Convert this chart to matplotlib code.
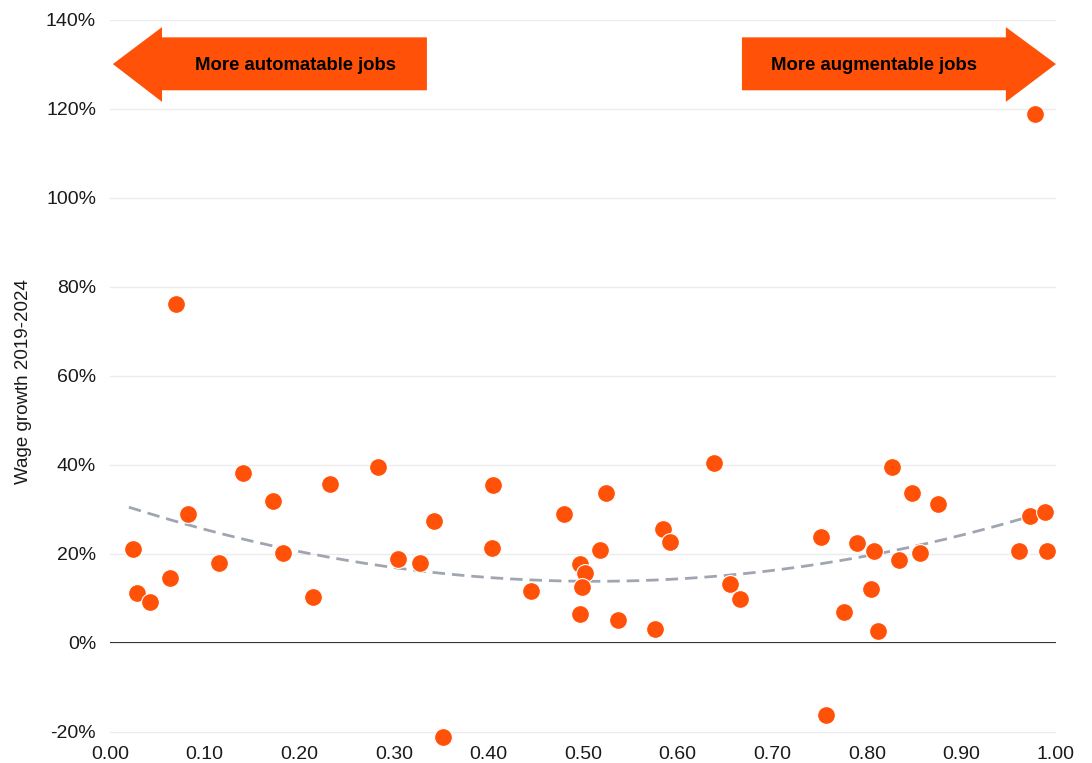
import numpy as np
import matplotlib
matplotlib.use("Agg")
import matplotlib.pyplot as plt
from matplotlib.ticker import PercentFormatter
from matplotlib.patches import Polygon

plt.rcParams['font.family'] = ['Liberation Sans', 'DejaVu Sans']
plt.rcParams['axes.unicode_minus'] = False

# Augmentation score (x) and wage growth 2019-2024 (y, fraction)
x_vals = [0.024, 0.029, 0.042, 0.063, 0.070, 0.082, 0.115, 0.141, 0.172, 0.183,
          0.215, 0.233, 0.283, 0.304, 0.328, 0.343, 0.352, 0.405, 0.404, 0.445,
          0.480, 0.524, 0.497, 0.502, 0.499, 0.497, 0.518, 0.537, 0.576, 0.585,
          0.592, 0.639, 0.655, 0.666, 0.752, 0.757, 0.776, 0.790, 0.808, 0.804,
          0.812, 0.827, 0.834, 0.848, 0.856, 0.875, 0.961, 0.973, 0.978, 0.988,
          0.990]
y_vals = [0.211, 0.112, 0.091, 0.145, 0.762, 0.289, 0.179, 0.381, 0.320, 0.202,
          0.103, 0.357, 0.396, 0.188, 0.179, 0.273, -0.211, 0.354, 0.213, 0.116,
          0.290, 0.337, 0.178, 0.158, 0.126, 0.065, 0.209, 0.052, 0.031, 0.256,
          0.226, 0.404, 0.133, 0.099, 0.238, -0.162, 0.069, 0.225, 0.207, 0.121,
          0.027, 0.395, 0.186, 0.337, 0.202, 0.312, 0.206, 0.285, 1.188, 0.294,
          0.206]

# Quadratic trend: (x, y) anchor points
trend_x = [0.02, 0.56, 0.975]
trend_y = [0.305, 0.140, 0.286]

y_ticks = [-0.20, 0.0, 0.20, 0.40, 0.60, 0.80, 1.00, 1.20, 1.40]
x_ticks = [0.0, 0.1, 0.2, 0.3, 0.4, 0.5, 0.6, 0.7, 0.8, 0.9, 1.0]

left_label = "More automatable jobs"
right_label = "More augmentable jobs"
y_label = "Wage growth 2019-2024"

ORANGE = '#ff5208'

fig = plt.figure(figsize=(10.92, 7.63), dpi=100)
ax = fig.add_axes([110/1092, 1-743/763, (1056-110)/1092, (743-20)/763])

ax.set_xlim(0, 1.0)
ax.set_ylim(-0.225, 1.40)

ax.set_yticks(y_ticks)
ax.set_xticks(x_ticks)
ax.yaxis.set_major_formatter(PercentFormatter(1.0, decimals=0))
ax.xaxis.set_major_formatter(matplotlib.ticker.FormatStrFormatter('%.2f'))
ax.grid(axis='y', color='#ececec', linewidth=1.0, zorder=0)
ax.grid(axis='x', visible=False)
for s in ax.spines.values():
    s.set_visible(False)
ax.tick_params(axis='both', length=0, labelsize=14, colors='#1a1a1a')
ax.tick_params(axis='y', pad=10)
ax.tick_params(axis='x', pad=2)
ax.axhline(0, color='black', linewidth=1.4, zorder=1)

ax.set_ylabel(y_label, fontsize=13.5, color='#1a1a1a', labelpad=10)

# trend line
coef = np.polyfit(trend_x, trend_y, 2)
tx = np.linspace(trend_x[0], trend_x[-1], 200)
ax.plot(tx, np.polyval(coef, tx), color='#9fa5b1', linewidth=2.0,
        linestyle=(0, (4.5, 2.5)), zorder=2)

ax.scatter(x_vals, y_vals, s=165, color=ORANGE, edgecolor='white',
           linewidth=0.8, zorder=3, clip_on=False)

# arrows (data coordinates)
left_arrow = [(0.003, 1.301), (0.055, 1.384), (0.055, 1.361), (0.335, 1.361),
              (0.335, 1.242), (0.055, 1.242), (0.055, 1.216)]
right_arrow = [(1.0, 1.301), (0.947, 1.384), (0.947, 1.361), (0.668, 1.361),
               (0.668, 1.242), (0.947, 1.242), (0.947, 1.216)]
for pts in (left_arrow, right_arrow):
    ax.add_patch(Polygon(pts, closed=True, facecolor=ORANGE, edgecolor='none',
                         zorder=4, clip_on=False))

ax.text(0.196, 1.298, left_label, ha='center', va='center', fontsize=13.3,
        fontweight='bold', color='black', zorder=5)
ax.text(0.808, 1.298, right_label, ha='center', va='center', fontsize=13.3,
        fontweight='bold', color='black', zorder=5)

fig.savefig('out.png', dpi=100, facecolor='white')
